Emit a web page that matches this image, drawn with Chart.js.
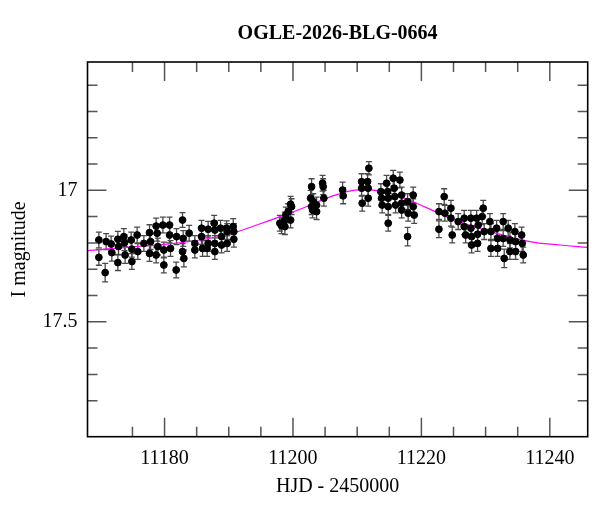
<!DOCTYPE html>
<html>
<head>
<meta charset="utf-8">
<script src="https://cdn.jsdelivr.net/npm/chart.js@4.4.1/dist/chart.umd.min.js"></script>
<style>
  html, body { margin: 0; padding: 0; background: #fff; }
  #wrap { width: 600px; height: 512px; }
</style>
</head>
<body>
<div id="wrap"><canvas id="lc" width="600" height="512"></canvas></div>
<script>
// OGLE photometry, HJD - 2450000
const hjd = [
  11169.77, 11169.77, 11170.75, 11170.90, 11171.68, 11171.79, 11172.73, 11172.83, 11172.73, 11173.66,
  11173.77, 11173.86, 11174.80, 11174.91, 11174.91, 11175.73, 11175.84, 11176.78, 11177.66, 11177.82,
  11177.66, 11178.69, 11178.85, 11178.96, 11178.69, 11179.74, 11179.89, 11179.89, 11180.78, 11180.78,
  11180.93, 11181.81, 11181.87, 11182.80, 11182.90, 11182.80, 11183.01, 11183.83, 11184.72, 11184.72,
  11185.76, 11185.76, 11185.92, 11186.79, 11186.79, 11186.64, 11187.73, 11187.83, 11187.83, 11187.83,
  11188.72, 11188.88, 11188.88, 11189.66, 11189.75, 11189.75, 11190.69, 11190.79, 11190.79, 11197.96,
  11198.22, 11198.74, 11198.74, 11198.89, 11199.25, 11199.63, 11199.78, 11199.63, 11202.90, 11202.74,
  11202.90, 11203.15, 11203.05, 11203.68, 11203.68, 11204.61, 11204.70, 11204.81, 11207.73, 11207.82,
  11211.82, 11210.69, 11210.69, 11210.78, 11211.62, 11211.71, 11211.71, 11213.69, 11213.80, 11213.89,
  11214.58, 11214.74, 11214.83, 11214.83, 11215.61, 11215.76, 11215.87, 11215.98, 11216.65, 11216.92,
  11216.92, 11216.92, 11214.83, 11217.85, 11217.85, 11217.94, 11218.72, 11218.72, 11218.88, 11223.55,
  11222.73, 11222.73, 11223.66, 11224.60, 11224.60, 11224.80, 11225.73, 11226.67, 11226.67, 11226.89,
  11227.71, 11227.71, 11227.82, 11227.82, 11228.60, 11228.85, 11228.75, 11228.75, 11229.63, 11229.47,
  11229.78, 11230.67, 11230.83, 11230.83, 11231.71, 11231.87, 11231.87, 11232.74, 11232.74, 11232.90,
  11233.52, 11233.79, 11233.79, 11234.56, 11234.67, 11234.67, 11235.61, 11235.70, 11235.86
];
const mag = [
  17.189, 17.255, 17.313, 17.195, 17.204, 17.237, 17.186, 17.214, 17.275, 17.176,
  17.199, 17.246, 17.189, 17.224, 17.271, 17.170, 17.233, 17.202, 17.161, 17.195,
  17.240, 17.136, 17.163, 17.214, 17.246, 17.132, 17.227, 17.284, 17.132, 17.170,
  17.221, 17.303, 17.176, 17.113, 17.183, 17.233, 17.259, 17.163, 17.202, 17.227,
  17.144, 17.176, 17.221, 17.148, 17.202, 17.221, 17.125, 17.151, 17.202, 17.233,
  17.144, 17.176, 17.208, 17.144, 17.157, 17.202, 17.138, 17.157, 17.186, 17.125,
  17.135, 17.138, 17.113, 17.094, 17.081, 17.113, 17.062, 17.053, 16.986, 17.030,
  17.062, 17.043, 17.075, 17.056, 17.081, 16.973, 16.986, 17.030, 16.999, 17.021,
  16.916, 16.967, 16.992, 17.049, 16.967, 16.992, 17.030, 17.005, 17.030, 17.056,
  16.973, 17.005, 17.030, 17.062, 16.954, 16.992, 17.024, 17.056, 16.961, 17.018,
  17.049, 17.075, 17.125, 17.176, 17.043, 17.087, 17.018, 17.062, 17.094, 17.024,
  17.081, 17.148, 17.087, 17.068, 17.106, 17.170, 17.119, 17.106, 17.138, 17.170,
  17.106, 17.144, 17.176, 17.208, 17.106, 17.132, 17.167, 17.202, 17.068, 17.100,
  17.157, 17.119, 17.157, 17.221, 17.144, 17.183, 17.221, 17.119, 17.183, 17.259,
  17.144, 17.189, 17.233, 17.157, 17.195, 17.233, 17.170, 17.202, 17.246
];
const magErr = [
  0.030, 0.030, 0.035, 0.030, 0.030, 0.032, 0.030, 0.030, 0.030, 0.030,
  0.030, 0.032, 0.030, 0.030, 0.030, 0.030, 0.030, 0.030, 0.030, 0.030,
  0.030, 0.030, 0.030, 0.032, 0.030, 0.030, 0.030, 0.030, 0.030, 0.030,
  0.030, 0.030, 0.030, 0.028, 0.030, 0.030, 0.032, 0.030, 0.030, 0.030,
  0.030, 0.030, 0.030, 0.030, 0.030, 0.030, 0.030, 0.030, 0.030, 0.030,
  0.030, 0.030, 0.030, 0.028, 0.030, 0.030, 0.030, 0.030, 0.030, 0.030,
  0.030, 0.030, 0.030, 0.030, 0.030, 0.030, 0.030, 0.030, 0.030, 0.030,
  0.030, 0.030, 0.030, 0.030, 0.030, 0.030, 0.030, 0.030, 0.030, 0.030,
  0.025, 0.030, 0.030, 0.030, 0.030, 0.030, 0.030, 0.030, 0.030, 0.030,
  0.030, 0.030, 0.030, 0.030, 0.030, 0.030, 0.030, 0.030, 0.030, 0.030,
  0.030, 0.030, 0.030, 0.035, 0.030, 0.030, 0.030, 0.030, 0.032, 0.030,
  0.030, 0.032, 0.030, 0.030, 0.030, 0.030, 0.030, 0.030, 0.030, 0.030,
  0.030, 0.030, 0.030, 0.030, 0.030, 0.030, 0.030, 0.030, 0.030, 0.030,
  0.030, 0.030, 0.030, 0.030, 0.030, 0.030, 0.030, 0.030, 0.030, 0.035,
  0.030, 0.030, 0.030, 0.030, 0.030, 0.030, 0.030, 0.030, 0.030
];

// model curve
const modelHjd = [11168.0, 11174.6, 11180.8, 11185.5, 11190.2, 11194.8, 11198.0, 11201.1, 11205.8,
                  11209.7, 11213.6, 11216.7, 11220.6, 11225.2, 11230.7, 11236.9, 11241.6, 11245.9];
const modelMag = [17.229, 17.216, 17.204, 17.189, 17.166, 17.128, 17.100, 17.072, 17.025,
                  16.999, 17.003, 17.024, 17.064, 17.113, 17.157, 17.195, 17.208, 17.217];

const xLabels = [11180, 11200, 11220, 11240];
const yLabels = [17, 17.5];
const titleText = "OGLE-2026-BLG-0664";

const serif = "'Liberation Serif', 'Times New Roman', serif";
const near = (a, b) => Math.abs(a - b) < 1e-6;

// error bars, title, and inward ticks on all four sides
const frameTicks = {
  id: "frameTicks",
  beforeDatasetsDraw(chart) {
    const { ctx, scales: { x, y } } = chart;
    ctx.save();
    ctx.strokeStyle = "#4a4a4a";
    ctx.lineWidth = 1.3;
    hjd.forEach((t, i) => {
      const px = x.getPixelForValue(t);
      const top = y.getPixelForValue(mag[i] - magErr[i]);
      const bot = y.getPixelForValue(mag[i] + magErr[i]);
      ctx.beginPath();
      ctx.moveTo(px, top); ctx.lineTo(px, bot);
      ctx.moveTo(px - 3, top); ctx.lineTo(px + 3, top);
      ctx.moveTo(px - 3, bot); ctx.lineTo(px + 3, bot);
      ctx.stroke();
    });
    ctx.restore();
  },
  afterDraw(chart) {
    const { ctx, chartArea: a, scales: { x, y } } = chart;
    ctx.save();
    ctx.strokeStyle = "#555";
    ctx.lineWidth = 1.5;
    ctx.beginPath();
    x.ticks.forEach((tk) => {
      const v = tk.value;
      if (!near(v / 5, Math.round(v / 5))) return;
      const len = near(v / 20, Math.round(v / 20)) ? 19 : 10;
      const px = x.getPixelForValue(v);
      ctx.moveTo(px, a.bottom); ctx.lineTo(px, a.bottom - len);
      ctx.moveTo(px, a.top); ctx.lineTo(px, a.top + len);
    });
    y.ticks.forEach((tk) => {
      const v = tk.value;
      if (!near(v * 10, Math.round(v * 10))) return;
      const len = near(v * 2, Math.round(v * 2)) ? 19 : 10;
      const py = y.getPixelForValue(v);
      ctx.moveTo(a.left, py); ctx.lineTo(a.left + len, py);
      ctx.moveTo(a.right, py); ctx.lineTo(a.right - len, py);
    });
    ctx.stroke();
    ctx.strokeStyle = "#000";
    ctx.lineWidth = 1.6;
    ctx.strokeRect(a.left, a.top, a.right - a.left, a.bottom - a.top);

    ctx.fillStyle = "#000";
    ctx.font = "bold 20px " + serif;
    ctx.textAlign = "center";
    ctx.textBaseline = "middle";
    ctx.fillText(titleText, (a.left + a.right) / 2, 34);
    ctx.restore();
  }
};

new Chart(document.getElementById("lc").getContext("2d"), {
  type: "scatter",
  data: {
    datasets: [
      {
        label: "OGLE",
        data: hjd.map((t, i) => ({ x: t, y: mag[i] })),
        backgroundColor: "#000",
        borderColor: "#000",
        pointRadius: 3.4,
        pointHoverRadius: 3.4,
        order: 0
      },
      {
        label: "model",
        data: modelHjd.map((t, i) => ({ x: t, y: modelMag[i] })),
        showLine: true,
        borderColor: "#ff00ff",
        borderWidth: 1.2,
        pointRadius: 0,
        tension: 0.4,
        order: 1
      }
    ]
  },
  options: {
    responsive: false,
    animation: false,
    devicePixelRatio: 1,
    layout: { padding: { left: 0, right: 12.3, top: 62, bottom: 0 } },
    plugins: {
      legend: { display: false },
      tooltip: { enabled: false },
      title: { display: false }
    },
    scales: {
      x: {
        type: "linear",
        min: 11168,
        max: 11245.9,
        afterFit: (s) => { s.height = 75.3; },
        border: { display: false },
        grid: { display: false, drawTicks: false },
        ticks: {
          stepSize: 5,
          padding: 10,
          color: "#000",
          maxRotation: 0,
          autoSkip: false,
          font: { family: serif, size: 20 },
          callback: (v) => (xLabels.some((l) => near(l, v)) ? String(v) : "")
        },
        title: {
          display: true,
          text: "HJD - 2450000",
          color: "#000",
          font: { family: serif, size: 20 },
          padding: { top: 0, bottom: 13 }
        }
      },
      y: {
        type: "linear",
        reverse: true,
        min: 16.512,
        max: 17.937,
        afterFit: (s) => { s.width = 87.5; },
        border: { display: false },
        grid: { display: false, drawTicks: false },
        ticks: {
          stepSize: 0.1,
          padding: 10,
          color: "#000",
          autoSkip: false,
          font: { family: serif, size: 20 },
          callback: (v) => (yLabels.some((l) => near(l, v)) ? String(v) : "")
        },
        title: {
          display: true,
          text: "I magnitude",
          color: "#000",
          font: { family: serif, size: 20 },
          padding: { top: 8, bottom: 0 }
        }
      }
    }
  },
  plugins: [frameTicks]
});
</script>
</body>
</html>
